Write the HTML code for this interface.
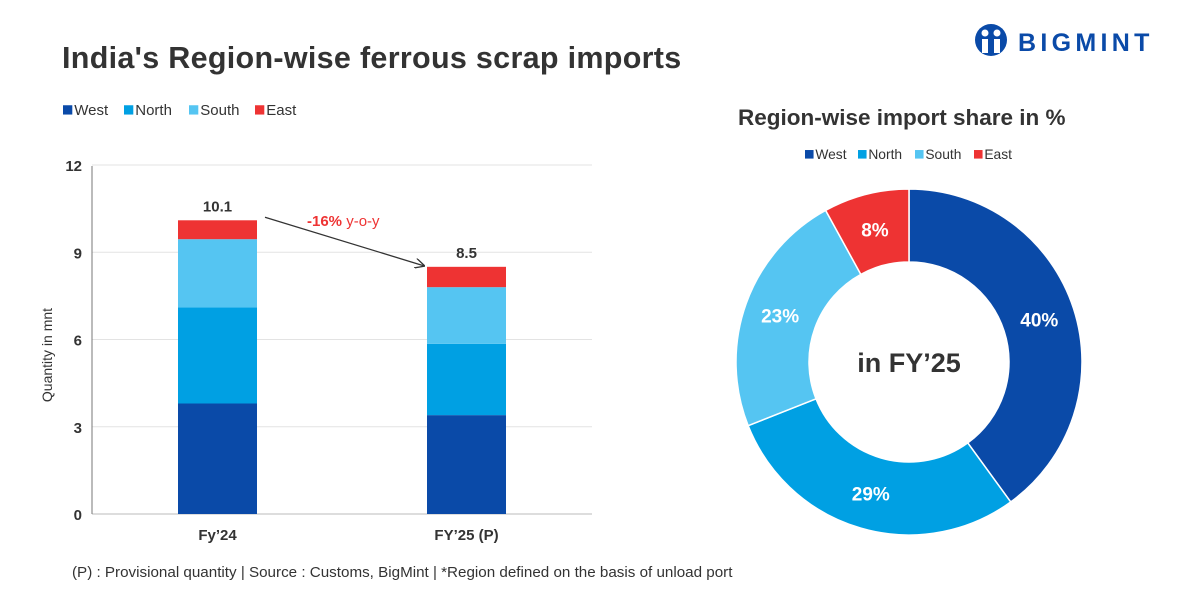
<!DOCTYPE html>
<html><head><meta charset="utf-8"><style>
body{margin:0;width:1200px;height:600px;background:#fff;font-family:"Liberation Sans",sans-serif;overflow:hidden}
svg{position:absolute;left:0;top:0}
</style></head><body>
<svg width="1200" height="600" id="svg">
<text x="62" y="68" font-size="30.5" font-weight="bold" fill="#333" letter-spacing="0.3">India's Region-wise ferrous scrap imports</text>
<g>
<circle cx="991" cy="40" r="16" fill="#0a4aa8"/>
<circle cx="985" cy="33" r="3.5" fill="#fff"/><circle cx="997" cy="33" r="3.5" fill="#fff"/>
<rect x="982" y="39" width="6" height="14" fill="#fff"/><rect x="994" y="39" width="6" height="14" fill="#fff"/>
<text x="1018" y="51" font-size="25" font-weight="bold" fill="#0a4aa8" letter-spacing="4.3">BIGMINT</text>
</g>
<g id="legend1"></g>
<g id="bars"></g>
<text x="738" y="125" font-size="22.5" font-weight="bold" fill="#333">Region-wise import share in %</text>
<g id="legend2"></g>
<g id="donut"></g>
<text x="909" y="372" text-anchor="middle" font-size="27" font-weight="bold" fill="#333">in FY’25</text>
<text x="72" y="577" font-size="15.2" fill="#333">(P) : Provisional quantity | Source : Customs, BigMint | *Region defined on the basis of unload port</text>
</svg>
<script>
const categories=["Fy’24","FY’25 (P)"];
const seriesNames=["West","North","South","East"];
const west=[3.8,3.4];
const north=[3.3,2.45];
const south=[2.35,1.95];
const east=[0.65,0.7];
const totals=["10.1","8.5"];
const yTicks=[0,3,6,9,12];
const shares=[40,29,23,8];
const shareLabels=["40%","29%","23%","8%"];
const colors=["#0a4aa8","#00a0e3","#55c5f2","#ee3333"];
const NS="http://www.w3.org/2000/svg";
function mk(p,t,a,txt){const e=document.createElementNS(NS,t);for(const k in a)e.setAttribute(k,a[k]);if(txt!==undefined)e.textContent=txt;p.appendChild(e);return e;}
const y=v=>514-v*29.08;
const bx=i=>178+i*249;
const bars=document.getElementById('bars');
yTicks.forEach(t=>{
 const l=mk(bars,'line',{x1:92,x2:592,y1:y(t),y2:y(t),stroke:t==0?'#bbb':'#e3e3e3','stroke-width':1});
 
 
 const tx=mk(bars,'text',{x:82,y:y(t)+6,'text-anchor':'end','font-size':15,'font-weight':'bold',fill:'#333'},t);
 
 
});
const ax=mk(bars,'line',{x1:92,x2:92,y1:166,y2:514,stroke:'#777'});


const yt=mk(bars,'text',{transform:'translate(52,355) rotate(-90)','text-anchor':'middle','font-size':14,fill:'#333'},'Quantity in mnt');


const series=[west,north,south,east];
categories.forEach((c,i)=>{
 let acc=0;
 series.forEach((s,k)=>{
  const r=mk(bars,'rect',{x:bx(i),width:79,y:y(acc+s[i]),height:y(acc)-y(acc+s[i]),fill:colors[k]});
  
  
  acc+=s[i];
 });
 const tl=mk(bars,'text',{x:bx(i)+39.5,y:y(acc)-9,'text-anchor':'middle','font-size':15,'font-weight':'bold',fill:'#333'},totals[i]);
 
 
 const cl=mk(bars,'text',{x:bx(i)+39.5,y:540,'text-anchor':'middle','font-size':15,'font-weight':'bold',fill:'#333'},c);
 
 
});
const t0=west[0]+north[0]+south[0]+east[0],t1=west[1]+north[1]+south[1]+east[1];
const defs=mk(bars,'defs',{});const m=mk(defs,'marker',{id:'ah',markerWidth:10,markerHeight:10,refX:9,refY:5,orient:'auto',markerUnits:'userSpaceOnUse'});mk(m,'path',{d:'M0,0 L10,5 L0,10',fill:'none',stroke:'#333','stroke-width':1.3});
const ar=mk(bars,'line',{x1:bx(0)+87,y1:y(t0)-3,x2:bx(1)-3,y2:y(t1)-1,stroke:'#333','stroke-width':1.3,'marker-end':'url(#ah)'});


const yo=mk(bars,'text',{x:307,y:226,'font-size':15,fill:'#ee3333'});


mk(yo,'tspan',{'font-weight':'bold'},'-16%');mk(yo,'tspan',{},' y-o-y');
function legend(id,x0,yy,fs,gaps){const g=document.getElementById(id);let x=x0;seriesNames.forEach((n,k)=>{
 const r=mk(g,'rect',{x:x,y:yy-fs*0.65,width:fs*0.62,height:fs*0.62,fill:colors[k]});
 
 
 const t=mk(g,'text',{x:x+fs*0.75,y:yy,'font-size':fs,fill:'#333'},n);
 
 
 x+=gaps[k];});}
legend('legend1',63,115,15,[61,65,66,60]);
legend('legend2',805,159,13.8,[53,57,59,50]);
const dn=document.getElementById('donut');const cx=909,cy=362,R=173,r0=100;
let a=-Math.PI/2;const tot=shares.reduce((p,c)=>p+c,0);
shares.forEach((s,k)=>{const a1=a+s/tot*2*Math.PI;const lg=(a1-a)>Math.PI?1:0;
 const p=(rr,aa)=>[cx+rr*Math.cos(aa),cy+rr*Math.sin(aa)];
 const [x1,y1]=p(R,a),[x2,y2]=p(R,a1),[x3,y3]=p(r0,a1),[x4,y4]=p(r0,a);
 const pa=mk(dn,'path',{d:`M${x1},${y1}A${R},${R} 0 ${lg} 1 ${x2},${y2}L${x3},${y3}A${r0},${r0} 0 ${lg} 0 ${x4},${y4}Z`,fill:colors[k],stroke:'#fff','stroke-width':1.5});
 
 
 const am=(a+a1)/2,[lx,ly]=p(137,am);
 const lt=mk(dn,'text',{x:lx,y:ly+7,'text-anchor':'middle','font-size':19,'font-weight':'bold',fill:'#fff'},shareLabels[k]);
 
 
 a=a1;});
</script>
</body></html>
